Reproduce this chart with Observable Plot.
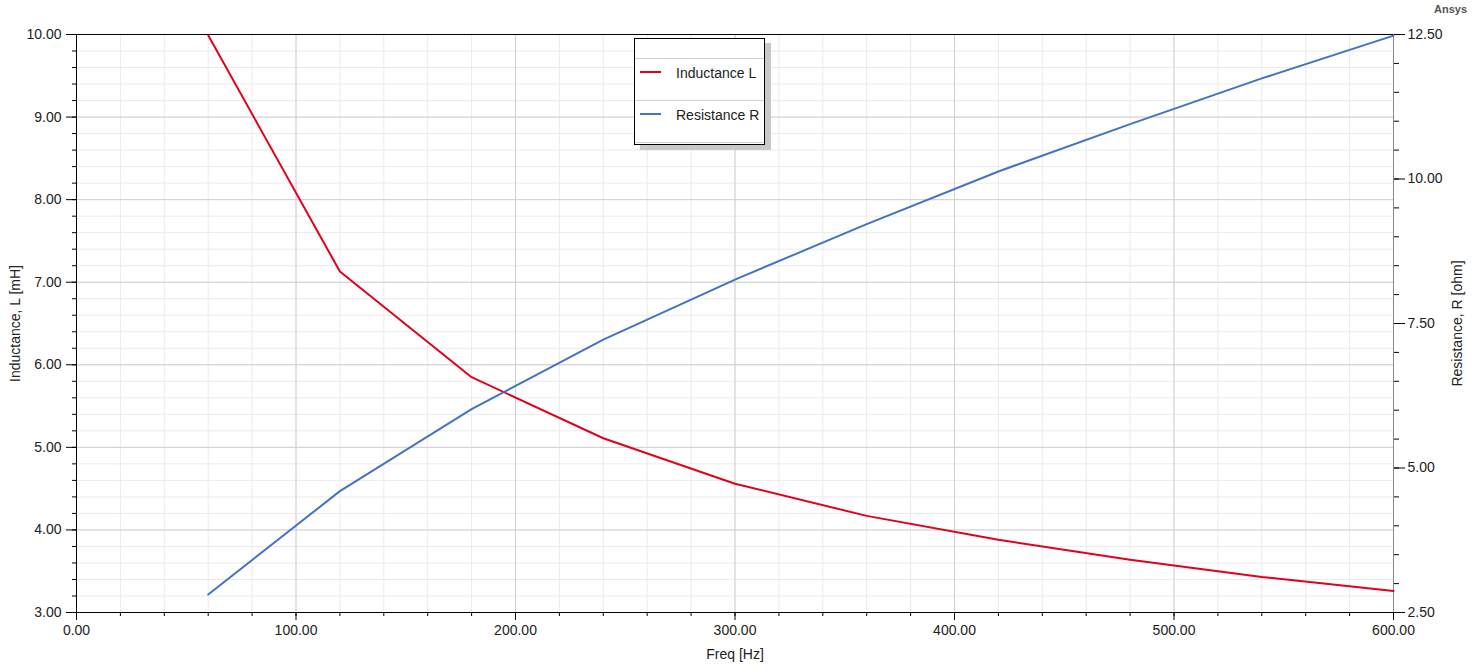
<!DOCTYPE html>
<html><head><meta charset="utf-8">
<script src="https://cdn.jsdelivr.net/npm/d3@7"></script>
<script src="https://cdn.jsdelivr.net/npm/@observablehq/plot@0.6"></script>
<style>
body{margin:0;background:#fff;font-family:"Liberation Sans",Arial,sans-serif;}
#wrap{position:relative;width:1475px;height:672px;overflow:hidden;}
#brand{position:absolute;left:1434px;top:3px;font-size:11px;font-weight:bold;color:#555;}
#legend{position:absolute;left:634px;top:38px;width:129px;height:105px;background:#fff;border:1px solid #000;box-shadow:6px 5px 0 #c8c8c8;font-size:14px;color:#222;}
.sep{position:absolute;left:0;width:129px;height:1px;background:#d0d0d0;}
.sw{position:absolute;left:5px;width:21px;height:2px;}
.lt{position:absolute;left:41px;white-space:nowrap;line-height:16px;}
</style></head><body>
<div id="wrap">
  <div id="chart"></div>
  <div id="brand">Ansys</div>
  <div id="legend"></div>
</div>
<script>
// Data
const freq = [60, 120, 180, 240, 300, 360, 420, 480, 540, 600];
const inductance = [9.99, 7.13, 5.85, 5.11, 4.56, 4.17, 3.88, 3.64, 3.43, 3.26];
const resistance = [2.81, 4.60, 6.02, 7.22, 8.26, 9.22, 10.13, 10.95, 11.74, 12.48];

const xMajor = [0, 100, 200, 300, 400, 500, 600];
const xMinor = d3.range(0, 601, 20);
const yMajor = [3, 4, 5, 6, 7, 8, 9, 10];
const yMinor = d3.range(3, 10.001, 0.2).map(v => +v.toFixed(2));
const rMajor = [2.5, 5, 7.5, 10, 12.5];
const rMinor = d3.range(2.5, 12.501, 0.5).map(v => +v.toFixed(2));

const seriesNames = ["Inductance L", "Resistance R"];
const seriesColors = ["#e3001b", "#4472c4"];

// map resistance (2.5..12.5) onto inductance scale (3..10)
const toL = r => 3 + (r - 2.5) * 0.7;
const fromL = l => 2.5 + (l - 3) / 0.7;

const rows = freq.map((f, i) => ({f, L: inductance[i], R: resistance[i]}));

const plot = Plot.plot({
  width: 1475, height: 672,
  marginTop: 34, marginRight: 82, marginBottom: 60, marginLeft: 76,
  style: {fontFamily: "Liberation Sans, Arial, sans-serif", fontSize: "14px", color: "#222", background: "#fff", overflow: "visible"},
  x: {domain: [0, 600]},
  y: {domain: [3, 10]},
  marks: [
    Plot.gridX(xMinor, {stroke: "#ebebeb", strokeOpacity: 1}),
    Plot.gridY(yMinor, {stroke: "#ebebeb", strokeOpacity: 1}),
    Plot.gridX(xMajor.slice(1, -1), {stroke: "#d0d0d0", strokeOpacity: 1}),
    Plot.gridY(yMajor.slice(1, -1), {stroke: "#d0d0d0", strokeOpacity: 1}),
    Plot.axisX(xMinor, {tickSize: 4, tickFormat: () => "", label: null, stroke: "#000"}),
    Plot.axisX(xMajor, {tickSize: 8, tickPadding: 5, tickFormat: d => d.toFixed(2), stroke: "#000", fill: "#222",
      label: "Freq [Hz]", labelAnchor: "center", labelOffset: 46, labelArrow: "none"}),
    Plot.axisY(yMinor, {tickSize: 4, tickFormat: () => "", label: null, stroke: "#000"}),
    Plot.axisY(yMajor, {tickSize: 10, tickPadding: 5, tickFormat: d => d.toFixed(2), stroke: "#000", fill: "#222",
      label: "Inductance, L [mH]", labelAnchor: "center", labelOffset: 66, labelArrow: "none"}),
    Plot.axisY(rMinor.map(toL), {anchor: "right", tickSize: 5, tickFormat: () => "", label: null, stroke: "#000"}),
    Plot.axisY(rMajor.map(toL), {anchor: "right", tickSize: 11, tickPadding: 3, tickFormat: d => fromL(d).toFixed(2), stroke: "#000", fill: "#222",
      label: "Resistance, R [ohm]", labelAnchor: "center", labelOffset: 68, labelArrow: "none"}),
    Plot.ruleY([3, 10], {stroke: "#000"}),
    Plot.ruleX([0], {stroke: "#000"}),
    Plot.ruleX([600], {stroke: "#888"}),
    Plot.line(rows, {x: "f", y: "L", stroke: seriesColors[0], strokeWidth: 2}),
    Plot.line(rows, {x: "f", y: d => toL(d.R), stroke: seriesColors[1], strokeWidth: 2})
  ]
});
document.getElementById("chart").appendChild(plot);

// legend
const lg = document.getElementById("legend");
[19, 61, 103].forEach(t => { const s = document.createElement("div"); s.className = "sep"; s.style.top = t + "px"; lg.appendChild(s); });
seriesNames.forEach((n, i) => {
  const y = 32 + i * 42;
  const sw = document.createElement("div"); sw.className = "sw"; sw.style.top = y + "px"; sw.style.background = seriesColors[i]; lg.appendChild(sw);
  const t = document.createElement("div"); t.className = "lt"; t.style.top = (y - 6) + "px"; t.textContent = n; lg.appendChild(t);
});
</script>
</body></html>
